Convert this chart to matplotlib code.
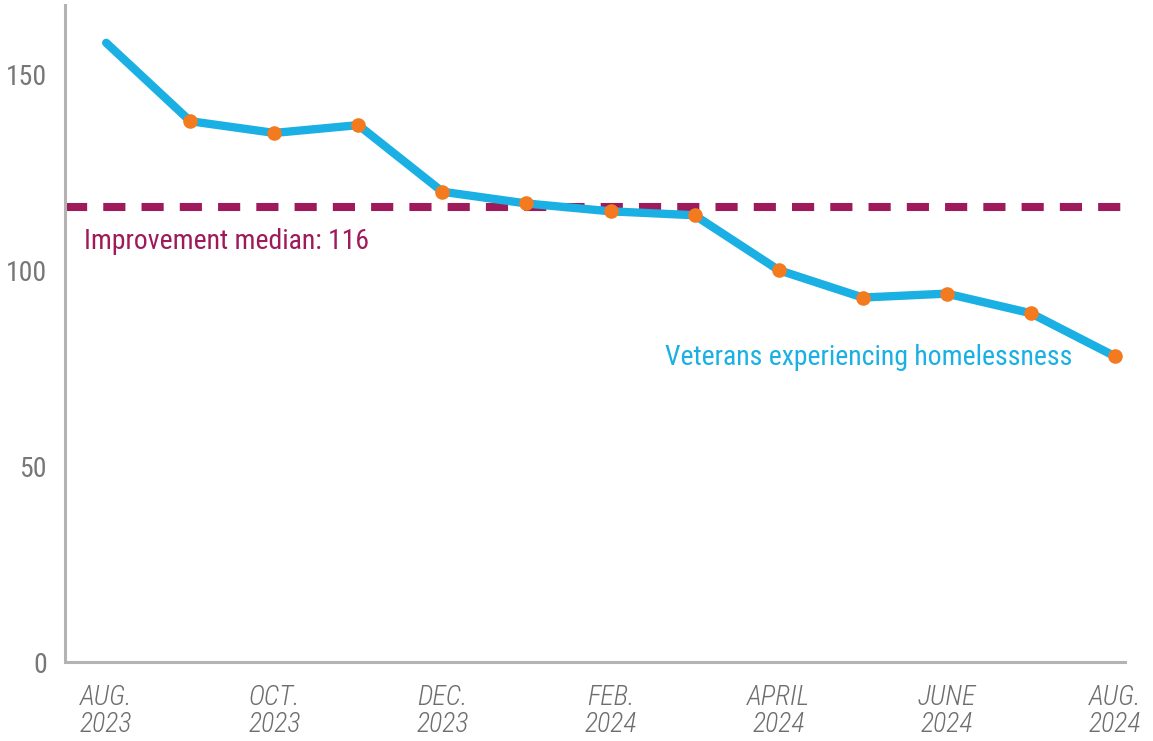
import numpy as np
import matplotlib.pyplot as plt
from matplotlib import font_manager

months = ["AUG.\n2023", "SEPT.\n2023", "OCT.\n2023", "NOV.\n2023", "DEC.\n2023", "JAN.\n2024",
          "FEB.\n2024", "MARCH\n2024", "APRIL\n2024", "MAY\n2024", "JUNE\n2024", "JULY\n2024", "AUG.\n2024"]
veterans = [158, 138, 135, 137, 120, 117, 115, 114, 100, 93, 94, 89, 78]
median = 116
yticks = [0, 50, 100, 150]

# look for a condensed face, the original uses a narrow sans
files = font_manager.findSystemFonts() + [f.fname for f in font_manager.fontManager.ttflist]

def pick(keys, fallback):
    for k in keys:
        for f in files:
            if k in f:
                return font_manager.FontProperties(fname=f)
    return fallback

fp = pick(['RobotoCondensed-Regular', 'LiberationSansNarrow-Regular',
           'DejaVuSansCondensed.ttf'], font_manager.FontProperties(family='DejaVu Sans'))
fp_it = pick(['RobotoCondensed-LightItalic', 'RobotoCondensed-Italic', 'LiberationSansNarrow-Italic',
              'DejaVuSansCondensed-Oblique'], font_manager.FontProperties(family='DejaVu Sans', style='italic'))

blue = '#1ab0e3'
orange = '#f47a20'
maroon = '#9e1a5a'
gray = '#777777'

fig = plt.figure(figsize=(11.53, 7.41), dpi=100)
ax = fig.add_axes([0.0564, 0.1066, 0.9193, 0.8864])

x = np.arange(len(veterans))
ax.plot(x, veterans, color=blue, lw=6, solid_capstyle='round', solid_joinstyle='round', zorder=3)
ax.plot(x[1:], veterans[1:], 'o', color=orange, ms=10.5, mec='none', zorder=4)

ax.axhline(median, color=maroon, lw=5.8, dashes=(2.75, 2.0), zorder=2)
ax.text(-0.27, 107.2, "Improvement median: " + str(median), color=maroon, fontproperties=fp, fontsize=20,
        va='center', ha='left')
ax.text(11.49, 77.8, "Veterans experiencing homelessness", color=blue, fontproperties=fp, fontsize=20,
        va='center', ha='right')

ax.set_xlim(-0.49, 12.12)
ax.set_ylim(0, 167.6)
ax.set_yticks(yticks)
ax.set_yticklabels([str(v) for v in yticks], color=gray, fontproperties=fp, fontsize=20)
ax.set_xticks(x[::2])
ax.set_xticklabels(months[::2], color='#6e6e6e', fontproperties=fp_it, fontsize=20, linespacing=1.0)
ax.tick_params(axis='both', length=0)
ax.tick_params(axis='x', pad=16)
ax.tick_params(axis='y', pad=13)

for s in ['top', 'right']:
    ax.spines[s].set_visible(False)
for s in ['left', 'bottom']:
    ax.spines[s].set_color('#b3b3b3')
    ax.spines[s].set_linewidth(2.2)

fig.savefig('out.png', dpi=100)
